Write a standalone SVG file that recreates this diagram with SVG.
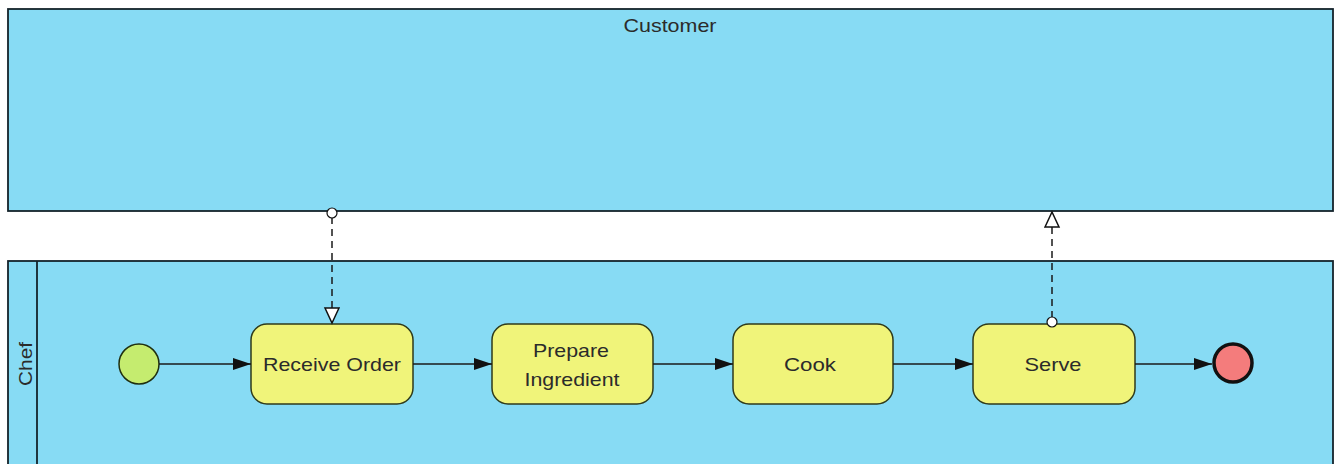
<svg xmlns="http://www.w3.org/2000/svg" width="1335" height="464" viewBox="0 0 1335 464">
<defs>
<style>
.pool{fill:#87dbf4;stroke:#14232b;stroke-width:1.8}
.task{fill:#f0f47a;stroke:#2f3a1a;stroke-width:1.5}
.lbl{font-family:"Liberation Sans",Arial,sans-serif;font-size:18.5px;fill:#2b2b2b;text-anchor:middle}
.seq{stroke:#1a1a1a;stroke-width:1.5;fill:none}
.msg{stroke:#1a1a1a;stroke-width:1.5;fill:none;stroke-dasharray:7 5}
</style>
<marker id="fill" markerWidth="20" markerHeight="14" refX="19" refY="7" orient="auto" markerUnits="userSpaceOnUse">
<path d="M1,1 L19,7 L1,13 Z" fill="#111"/>
</marker>
<marker id="open" markerWidth="18" markerHeight="20" refX="16" refY="8" orient="auto" markerUnits="userSpaceOnUse">
<path d="M1,1 L16,8 L1,15 Z" fill="#fff" stroke="#111" stroke-width="1.5"/>
</marker>
</defs>
<rect width="1335" height="464" fill="#fff"/>
<g id="customer">
<rect class="pool" x="8" y="9" width="1325" height="202"/>
<text class="lbl" x="670" y="32" textLength="93" lengthAdjust="spacingAndGlyphs">Customer</text>
</g>
<g id="chef">
<rect class="pool" x="8" y="261" width="1325" height="210"/>
<line x1="37" y1="261" x2="37" y2="464" stroke="#14232b" stroke-width="1.8"/>
<text class="lbl" transform="translate(32,364) rotate(-90)" textLength="44" lengthAdjust="spacingAndGlyphs">Chef</text>
</g>
<g id="start">
<circle cx="139" cy="364" r="20" fill="#c5ec6f" stroke="#1f2f10" stroke-width="1.5"/>
</g>
<g id="receive-order">
<rect class="task" x="251" y="324" width="162" height="80" rx="16"/>
<text class="lbl" x="332" y="371" textLength="138" lengthAdjust="spacingAndGlyphs">Receive Order</text>
</g>
<g id="prepare-ingredient">
<rect class="task" x="492" y="324" width="161" height="80" rx="16"/>
<text class="lbl" x="571" y="357" textLength="76" lengthAdjust="spacingAndGlyphs">Prepare</text>
<text class="lbl" x="572" y="386" textLength="95" lengthAdjust="spacingAndGlyphs">Ingredient</text>
</g>
<g id="cook">
<rect class="task" x="733" y="324" width="160" height="80" rx="16"/>
<text class="lbl" x="810" y="371" textLength="52" lengthAdjust="spacingAndGlyphs">Cook</text>
</g>
<g id="serve">
<rect class="task" x="973" y="324" width="162" height="80" rx="16"/>
<text class="lbl" x="1053" y="371" textLength="57" lengthAdjust="spacingAndGlyphs">Serve</text>
</g>
<g id="end">
<circle cx="1233" cy="363" r="19" fill="#f47c7c" stroke="#111" stroke-width="3.5"/>
</g>
<g id="connectors">
<line class="seq" x1="159" y1="364" x2="251" y2="364" marker-end="url(#fill)"/>
<line class="seq" x1="413" y1="364" x2="492" y2="364" marker-end="url(#fill)"/>
<line class="seq" x1="653" y1="364" x2="733" y2="364" marker-end="url(#fill)"/>
<line class="seq" x1="893" y1="364" x2="973" y2="364" marker-end="url(#fill)"/>
<line class="seq" x1="1135" y1="364" x2="1212" y2="364" marker-end="url(#fill)"/>
<line class="msg" x1="332" y1="217" x2="332" y2="323" marker-end="url(#open)"/>
<circle cx="332" cy="213" r="5" fill="#fff" stroke="#111" stroke-width="1.2"/>
<line class="msg" x1="1052" y1="318" x2="1052" y2="212" marker-end="url(#open)"/>
<circle cx="1052" cy="322" r="5" fill="#fff" stroke="#111" stroke-width="1.2"/>
</g>
</svg>
